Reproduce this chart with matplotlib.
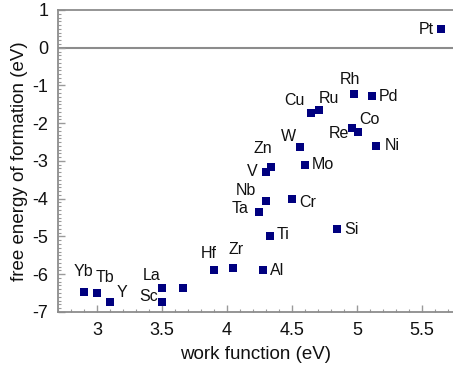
import matplotlib.pyplot as plt
from matplotlib.ticker import MultipleLocator

# work function (eV) and free energy of formation (eV) per element
elements = ["Pt", "Rh", "Pd", "Cu", "Ru", "Re", "Co", "Ni", "W", "Zn", "V", "Mo",
            "Nb", "Cr", "Ta", "Ti", "Si", "Al", "Hf", "Zr", "La", "Sc", "", "Yb", "Tb", "Y"]
work_function = [5.65, 4.98, 5.12, 4.65, 4.71, 4.96, 5.01, 5.15, 4.56, 4.34, 4.30, 4.60,
                 4.30, 4.50, 4.25, 4.33, 4.85, 4.28, 3.90, 4.05, 3.50, 3.50, 3.66, 2.90, 3.00, 3.10]
free_energy = [0.49, -1.22, -1.28, -1.74, -1.65, -2.12, -2.22, -2.60, -2.62, -3.17, -3.28, -3.10,
               -4.05, -4.01, -4.35, -5.00, -4.81, -5.88, -5.90, -5.83, -6.37, -6.73, -6.36,
               -6.46, -6.51, -6.74]

# label placement (dx, dy in pixels, horizontal alignment)
label_pos = {
    "Pt": (-7, 0, "right"), "Rh": (-4, 14, "center"), "Pd": (6, 0, "left"),
    "Cu": (-17, 13, "center"), "Ru": (10, 12, "center"), "Re": (-3, -6, "right"),
    "Co": (11, 12, "center"), "Ni": (8, 0, "left"), "W": (-11, 10, "center"),
    "Zn": (-8, 19, "center"), "V": (-8, 0, "right"), "Mo": (7, 0, "left"),
    "Nb": (-10, 10, "right"), "Cr": (7, -3, "left"), "Ta": (-11, 3, "right"),
    "Ti": (7, 2, "left"), "Si": (7, 0, "left"), "Al": (7, -1, "left"),
    "Hf": (-5, 17, "center"), "Zr": (3, 18, "center"), "La": (-10, 13, "center"),
    "Sc": (-4, 5, "right"), "Yb": (-1, 20, "center"), "Tb": (8, 16, "center"),
    "Y": (12, 10, "center"),
}

plt.rcParams['font.family'] = ['Liberation Sans', 'DejaVu Sans']
plt.rcParams['axes.unicode_minus'] = False

fig = plt.figure(figsize=(4.53, 3.70), dpi=100)
ax = fig.add_axes([0.128, 0.157, 0.872, 0.816])

ax.axhline(0, color='#8c8c8c', lw=1.5, zorder=1)
ax.scatter(work_function, free_energy, marker='s', s=30, color='#00007f',
           linewidths=0, zorder=3)

for name, x, y in zip(elements, work_function, free_energy):
    if not name:
        continue
    dx, dy, ha = label_pos[name]
    ax.annotate(name, (x, y), xytext=(dx, dy), textcoords='offset pixels',
                ha=ha, va='center', fontsize=11.5, color='#111111')

ax.set_xlim(2.7, 5.74)
ax.set_ylim(-7, 1)
ax.xaxis.set_minor_locator(MultipleLocator(0.1))
ax.yaxis.set_major_locator(MultipleLocator(1))
ax.yaxis.set_minor_locator(MultipleLocator(0.1))
ax.set_xticks([3, 3.5, 4, 4.5, 5, 5.5])
ax.set_xticklabels(["3", "3.5", "4", "4.5", "5", "5.5"])

ax.tick_params(which='both', direction='in', color='#9a9a9a', labelsize=13,
               labelcolor='#111111')
ax.tick_params(which='major', length=5, width=1, pad=7)
ax.tick_params(which='minor', length=2.5, width=0.8)

for side in ['left', 'bottom', 'top']:
    ax.spines[side].set_color('#8c8c8c')
    ax.spines[side].set_linewidth(1.3)
ax.spines['right'].set_visible(False)

ax.set_xlabel("work function (eV)", fontsize=13.5, color='#111111', labelpad=5)
ax.set_ylabel("free energy of formation (eV)", fontsize=13.5, color='#111111', labelpad=3)

fig.savefig("out.png", dpi=100)
